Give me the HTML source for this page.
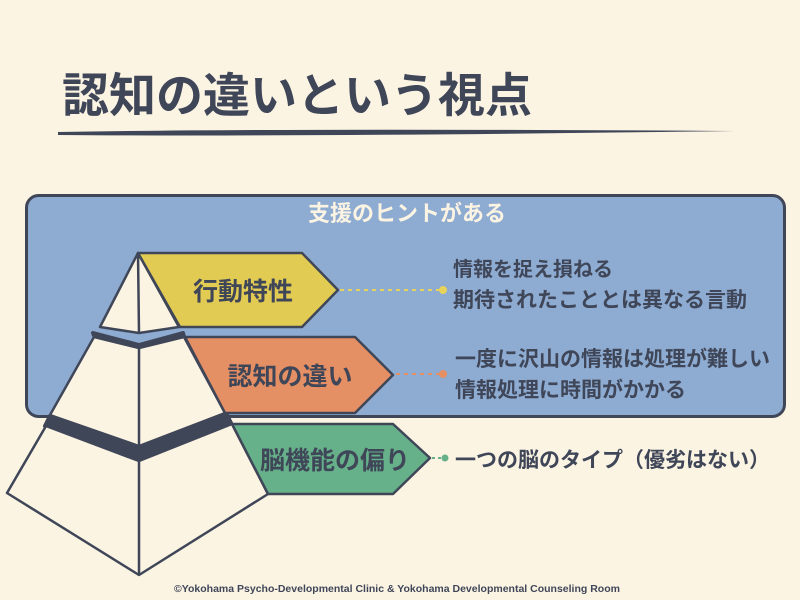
<!DOCTYPE html>
<html><head><meta charset="utf-8"><style>
html,body{margin:0;padding:0;background:#fcf4e3;}
svg{display:block}
text{font-family:"Liberation Sans","Noto Sans CJK JP",sans-serif;font-weight:bold;fill:#3f4658}
</style></head><body>
<svg width="800" height="600" viewBox="0 0 800 600">
<rect width="800" height="600" fill="#fcf4e3"/>
<text x="62" y="112" font-size="47">認知の違いという視点</text>
<path d="M58 132 Q300 128 735 131 Q300 137 58 135 Z" fill="#3f4658"/>
<rect x="26.5" y="195.5" width="758" height="221" rx="12" fill="#8eabd2" stroke="#3f4658" stroke-width="3"/>
<text x="407" y="221" font-size="22" text-anchor="middle" style="fill:#fcf4e3">支援のヒントがある</text>
<polygon points="93,333 139,345 183,333 185,340 139,352 96,340" fill="#3f4658" stroke="#3f4658" stroke-width="4" stroke-linejoin="round"/>
<polygon points="50,416 139,446 226,413 232,425 139,461 45,426" fill="#3f4658" stroke="#3f4658" stroke-width="4" stroke-linejoin="round"/>
<polygon points="138,253 100,327 139,333 179,327" fill="#fcf4e3" stroke="#3f4658" stroke-width="2.5" stroke-linejoin="round"/>
<line x1="138" y1="253" x2="139" y2="333" stroke="#3f4658" stroke-width="2.5"/>
<polygon points="94,337 139,348 184,337 225,413 139,446 50,415" fill="#fcf4e3" stroke="#3f4658" stroke-width="2.5" stroke-linejoin="round"/>
<line x1="139" y1="348" x2="139" y2="446" stroke="#3f4658" stroke-width="2.5"/>
<polygon points="46,426 139,461 232,424 268,494 139,575 7,493" fill="#fcf4e3" stroke="#3f4658" stroke-width="2.5" stroke-linejoin="round"/>
<line x1="139" y1="461" x2="139" y2="575" stroke="#3f4658" stroke-width="2.5"/>
<polygon points="138,253 302,253 338,290 302,327 180,327" fill="#e2cb52" stroke="#3f4658" stroke-width="2.5" stroke-linejoin="round"/>
<text x="243" y="300" font-size="25" text-anchor="middle">行動特性</text>
<polygon points="185,337 355,337 393,375 355,413 225,413" fill="#e58f64" stroke="#3f4658" stroke-width="2.5" stroke-linejoin="round"/>
<text x="290" y="385" font-size="25" text-anchor="middle">認知の違い</text>
<polygon points="232,424 393,424 430,458 393,494 268,494" fill="#66b08a" stroke="#3f4658" stroke-width="2.5" stroke-linejoin="round"/>
<text x="335" y="469" font-size="25" text-anchor="middle">脳機能の偏り</text>
<line x1="340" y1="290" x2="442" y2="290" stroke="#e8d35a" stroke-width="2" stroke-dasharray="4,4"/>
<circle cx="443" cy="290" r="4" fill="#e8d35a"/>
<line x1="396" y1="374" x2="442" y2="374" stroke="#e58f64" stroke-width="2" stroke-dasharray="4,4"/>
<circle cx="443" cy="374" r="4" fill="#e58f64"/>
<line x1="432" y1="458" x2="442" y2="458" stroke="#66b08a" stroke-width="2" stroke-dasharray="3,3"/>
<circle cx="445" cy="458" r="3.5" fill="#66b08a"/>
<text x="453" y="276" font-size="20">情報を捉え損ねる</text>
<text x="453" y="307" font-size="21">期待されたこととは異なる言動</text>
<text x="455" y="366" font-size="21">一度に沢山の情報は処理が難しい</text>
<text x="455" y="397" font-size="21">情報処理に時間がかかる</text>
<text x="455" y="467" font-size="21">一つの脳のタイプ（優劣はない）</text>
<text x="397" y="592" font-size="10.5" text-anchor="middle">©Yokohama Psycho-Developmental Clinic &amp; Yokohama Developmental Counseling Room</text>
</svg>
</body></html>
